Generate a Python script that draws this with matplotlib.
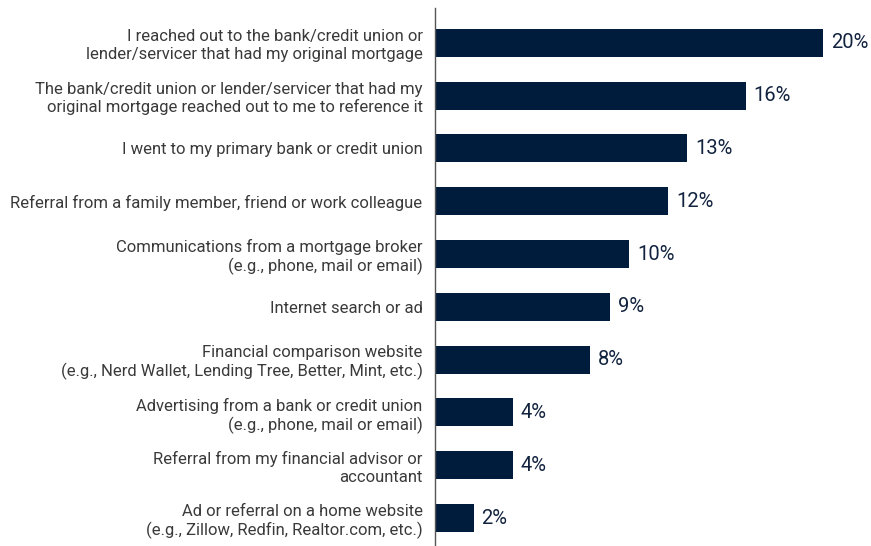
import matplotlib.pyplot as plt

labels = [
    "I reached out to the bank/credit union or\nlender/servicer that had my original mortgage",
    "The bank/credit union or lender/servicer that had my\noriginal mortgage reached out to me to reference it",
    "I went to my primary bank or credit union",
    "Referral from a family member, friend or work colleague",
    "Communications from a mortgage broker\n(e.g., phone, mail or email)",
    "Internet search or ad",
    "Financial comparison website\n(e.g., Nerd Wallet, Lending Tree, Better, Mint, etc.)",
    "Advertising from a bank or credit union\n(e.g., phone, mail or email)",
    "Referral from my financial advisor or\naccountant",
    "Ad or referral on a home website\n(e.g., Zillow, Redfin, Realtor.com, etc.)",
]
values = [20, 16, 13, 12, 10, 9, 8, 4, 4, 2]

navy = "#001c3c"
plt.rcParams["font.family"] = ["Roboto", "DejaVu Sans"]

fig = plt.figure(figsize=(8.71, 5.46), dpi=100)
ax = fig.add_axes([435 / 871, 0, 436 / 871, 538 / 546])

pos = range(len(values))
ax.barh(pos, values, height=0.53, color=navy)
for y, v in zip(pos, values):
    ax.text(v + 0.4, y, "%d%%" % v, va="center", ha="left", fontsize=14.5,
            color="#12233f")

ax.set_xlim(0, 22.45)
ax.set_ylim(9.53, -0.66)
ax.set_yticks(list(pos))
ax.set_yticklabels(labels, fontsize=12, color="#3a3a3a", linespacing=1.2)
ax.tick_params(axis="y", length=0, pad=9)
ax.set_xticks([])
for side in ["top", "right", "bottom"]:
    ax.spines[side].set_visible(False)
ax.spines["left"].set_color("#555555")
ax.spines["left"].set_linewidth(1.0)

fig.savefig("out.png", dpi=100)
